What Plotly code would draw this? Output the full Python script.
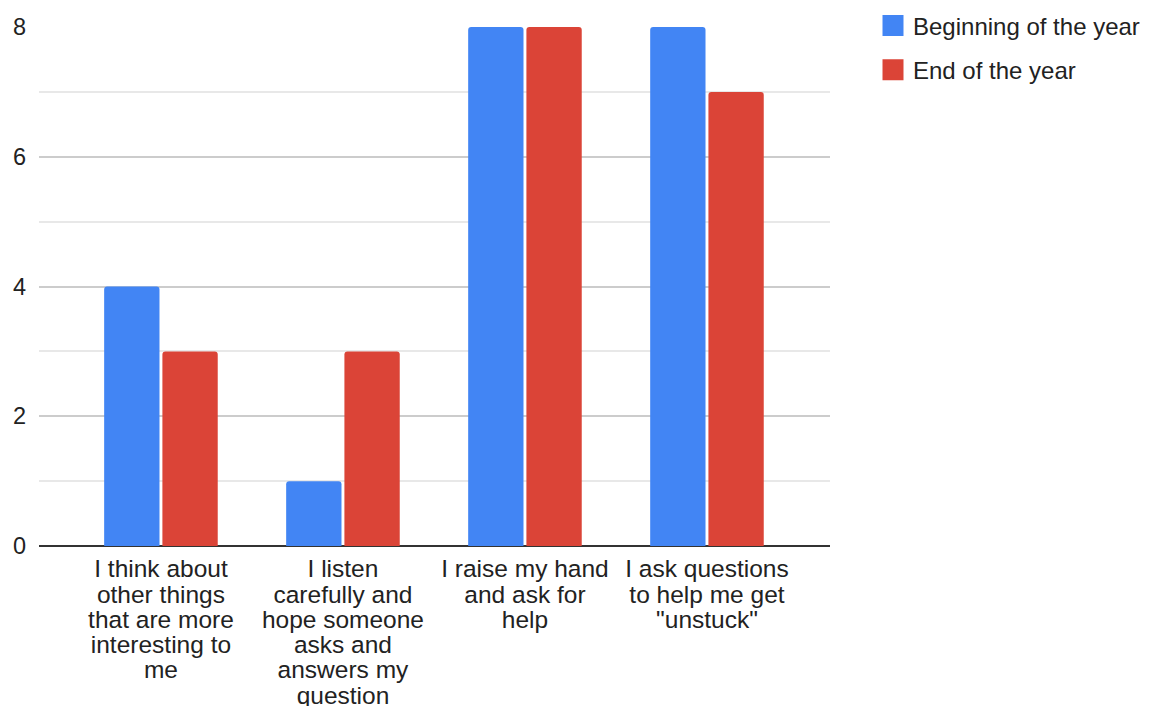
import plotly.graph_objects as go

categories = [
    "I think about<br>other things<br>that are more<br>interesting to<br>me",
    "I listen<br>carefully and<br>hope someone<br>asks and<br>answers my<br>question",
    "I raise my hand<br>and ask for<br>help",
    "I ask questions<br>to help me get<br>\"unstuck\"",
]
beginning = [4, 1, 8, 8]
end = [3, 3, 8, 7]
series_names = ["Beginning of the year", "End of the year"]
colors = ["#4285F4", "#DB4437"]
y_ticks = [0, 2, 4, 6, 8]

FONT = "Liberation Sans, Arial, Helvetica, sans-serif"
xs = list(range(len(categories)))
# wrap each line so glyphs are larger than the line pitch
ticktext = []
for c in categories:
    lines = c.split("<br>")
    ticktext.append("<br>".join('<span style="font-size:24.5px">%s</span>' % l for l in lines))

fig = go.Figure()
for name, vals, col, grp in zip(series_names, [beginning, end], colors, ["a", "b"]):
    fig.add_trace(go.Bar(
        x=xs, y=vals, name=name, legendgroup=grp, showlegend=False,
        marker=dict(color=col, line=dict(width=0), cornerradius=3),
    ))
# legend entries with larger square swatches
for name, col, grp in zip(series_names, colors, ["a", "b"]):
    fig.add_trace(go.Scatter(
        x=[None], y=[None], mode="markers", name=name, legendgroup=grp,
        marker=dict(symbol="square", size=16, color=col,
                    line=dict(width=5, color=col)),
        hoverinfo="skip",
    ))

W, H = 1159, 706
ML, MB = 39, 160
plot_left, plot_right, plot_top, plot_bottom = 39, 830, 27, 546
pw, ph = W - ML, H - MB

fig.update_layout(
    width=W, height=H,
    margin=dict(l=ML, r=0, t=0, b=MB),
    paper_bgcolor="white", plot_bgcolor="white",
    barmode="group", bargap=0.36, bargroupgap=0.05,
    font=dict(family=FONT, size=24, color="#222222"),
    showlegend=True,
    legend=dict(x=(873 - ML) / pw, y=1 - 3.5 / ph, xanchor="left", yanchor="top",
                traceorder="grouped", tracegroupgap=10,
                font=dict(size=24, color="#222222"),
                bgcolor="rgba(0,0,0,0)"),
    xaxis=dict(
        domain=[0, (plot_right - ML) / pw],
        range=[-0.67, 3.676], tickmode="array", tickvals=xs, ticktext=ticktext,
        tickfont=dict(size=19.4, color="#222222"), showgrid=False, ticks="",
        showline=False, zeroline=False, fixedrange=True, automargin=False,
        ticklabelstandoff=11,
    ),
    yaxis=dict(
        domain=[0, (plot_bottom - plot_top) / ph],
        range=[0, 8], tickmode="array", tickvals=y_ticks,
        tickfont=dict(size=23.5, color="#222222"),
        showgrid=True, gridcolor="#cccccc", gridwidth=1.5,
        minor=dict(dtick=1, showgrid=True, gridcolor="#e8e8e8", gridwidth=1.5),
        zeroline=True, zerolinecolor="#333333", zerolinewidth=1.5,
        ticklabelstandoff=12, showline=False, fixedrange=True, automargin=False,
    ),
)

fig.write_html("out.html")
